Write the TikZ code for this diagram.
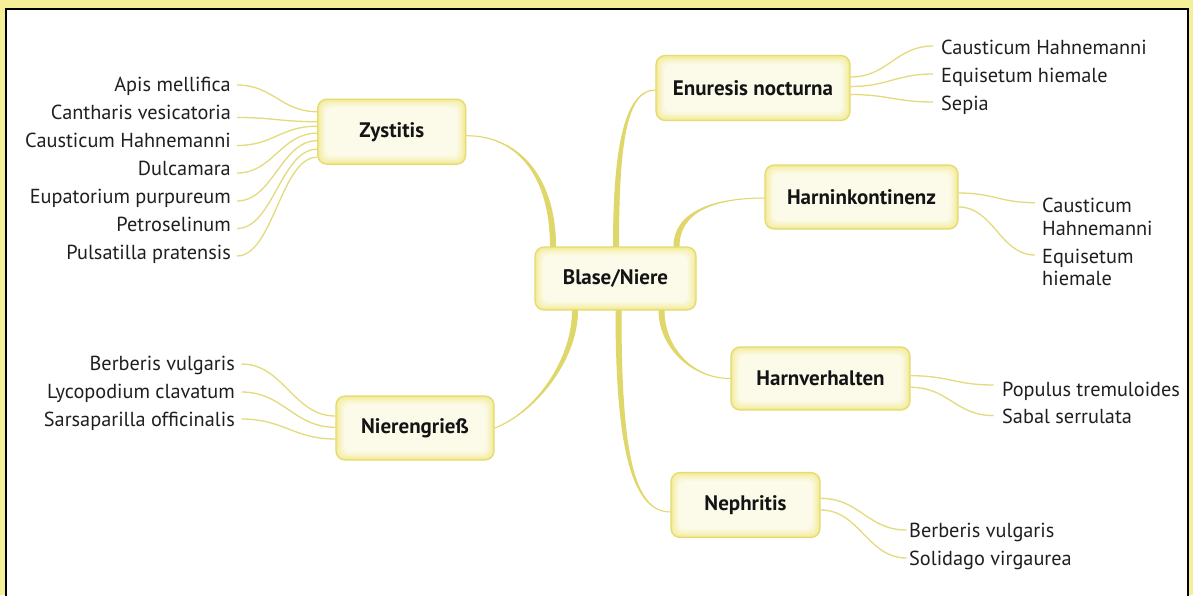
\documentclass[tikz,border=0pt]{standalone}
\usepackage{fontspec}
\setmainfont{PT Sans}
\definecolor{frameyellow}{HTML}{F5EF98}
\definecolor{linecol}{HTML}{E0D76A}
\definecolor{leafline}{HTML}{E3DB7C}
\definecolor{nodeborder}{HTML}{E3DA72}
\definecolor{ga}{HTML}{F3EB98}
\definecolor{gb}{HTML}{F6F0B2}
\definecolor{gc}{HTML}{F8F4C8}
\definecolor{gd}{HTML}{FAF8DA}
\definecolor{ge}{HTML}{FCFBEA}
\pgfdeclarelayer{framelayer}
\pgfdeclarelayer{connlayer}
\pgfsetlayers{framelayer,connlayer,main}
\tikzset{
  topic/.style={draw=nodeborder, line width=1.2pt, fill=ga, rounded corners=9pt, inner sep=0pt,
    font=\fontsize{21}{24}\selectfont\bfseries, text=black!92,
    path picture={
      \foreach \i/\c in {2/gb,4/gc,6/gd,8/ge}{
        \fill[\c, rounded corners=7pt]
          ([shift={(\i,\i)}]path picture bounding box.north west) rectangle
          ([shift={(-\i,-\i)}]path picture bounding box.south east);
      }}},
  leaf/.style={inner sep=0pt, font=\fontsize{20.3}{22.5}\selectfont, text=black!88},
  leafL/.style={leaf, anchor=base east},
  leafR/.style={leaf, anchor=base west, align=left},
  br/.style={fill=linecol, draw=linecol, line width=1pt, line join=round},
  ln/.style={draw=leafline, line width=1.3pt},
}
\begin{document}
\begin{tikzpicture}[x=1pt, y=-1pt]
\useasboundingbox (0,0) rectangle (1193,595);
\begin{pgfonlayer}{framelayer}
  \fill[frameyellow] (0,0) rectangle (1193,595);
  \fill[white] (5.5,8.5) rectangle (1188,600);
  \draw[black, line width=2pt] (5.5,600) |- (1188,8.5) -- (1188,600);
\end{pgfonlayer}

% topic nodes
\node[topic, minimum width=161pt, minimum height=63pt] (cen) at (615.5,278.5) {Blase/Niere};
\node[topic, minimum width=148pt, minimum height=65pt] (zys) at (391.7,131.7) {Zystitis};
\node[topic, minimum width=194pt, minimum height=65pt] (enu) at (753,88) {Enuresis nocturna};
\node[topic, minimum width=193pt, minimum height=64pt] (hki) at (861.5,197) {Harninkontinenz};
\node[topic, minimum width=179pt, minimum height=63pt] (hvh) at (820.5,378.5) {Harnverhalten};
\node[topic, minimum width=158pt, minimum height=64pt] (nie) at (415,428) {Nierengrieß};
\node[topic, minimum width=149pt, minimum height=65pt] (nep) at (745.5,505) {Nephritis};

% leaves left: Zystitis
\node[leafL] (z1) at (231,91) {Apis mellifica};
\node[leafL] (z2) at (231,119) {Cantharis vesicatoria};
\node[leafL] (z3) at (231,147) {Causticum Hahnemanni};
\node[leafL] (z4) at (231,175) {Dulcamara};
\node[leafL] (z5) at (231,203) {Eupatorium purpureum};
\node[leafL] (z6) at (231,231) {Petroselinum};
\node[leafL] (z7) at (231,259) {Pulsatilla pratensis};
% leaves left: Nierengriess
\node[leafL] (n1) at (235,370) {Berberis vulgaris};
\node[leafL] (n2) at (235,398) {Lycopodium clavatum};
\node[leafL] (n3) at (235,426) {Sarsaparilla officinalis};
% leaves right
\node[leafR] (e1) at (941,54) {Causticum Hahnemanni};
\node[leafR] (e2) at (941,82) {Equisetum hiemale};
\node[leafR] (e3) at (941,110) {Sepia};
\node[leafR] (h1) at (1042,235.2) {Causticum\\Hahnemanni};
\node[leafR] (h2) at (1042,285.5) {Equisetum\\hiemale};
\node[leafR] (v1) at (1002,396.5) {Populus tremuloides};
\node[leafR] (v2) at (1002,423.3) {Sabal serrulata};
\node[leafR] (p1) at (909,537) {Berberis vulgaris};
\node[leafR] (p2) at (909,565) {Solidago virgaurea};

\begin{pgfonlayer}{connlayer}
  % main tapered branches
  \path[br] ([shift={(-65,0)}]cen.north) .. controls +(0,-67) and +(54,0) .. ([shift={(0,4)}]zys.east)
     .. controls +(54,0) and +(0,-67) .. ([shift={(-60,0)}]cen.north) -- cycle;
  \path[br] ([shift={(-2,0)}]cen.north) .. controls +(0,-100) and +(-30,0) .. ([shift={(0,2)}]enu.west)
     .. controls +(-30,0) and +(0,-100) .. ([shift={(3,0)}]cen.north) -- cycle;
  \path[br] ([shift={(58.5,0)}]cen.north) .. controls +(0,-35) and +(-50,0) .. ([shift={(0,1)}]hki.west)
     .. controls +(-50,0) and +(0,-35) .. ([shift={(63.5,0)}]cen.north) -- cycle;
  \path[br] ([shift={(43.5,0)}]cen.south) .. controls +(0,35) and +(-40,0) .. (hvh.west)
     .. controls +(-40,0) and +(0,35) .. ([shift={(48.5,0)}]cen.south) -- cycle;
  \path[br] ([shift={(0.5,0)}]cen.south) .. controls +(0,130) and +(-40,0) .. ([shift={(0,7)}]nep.west)
     .. controls +(-40,0) and +(0,130) .. ([shift={(5.5,0)}]cen.south) -- cycle;
  \path[br] ([shift={(-43,0)}]cen.south) .. controls +(0,50) and +(40,-15) .. (nie.east)
     .. controls +(40,-15) and +(0,50) .. ([shift={(-38,0)}]cen.south) -- cycle;

  % leaf connectors: Zystitis
  \draw[ln] ([shift={(6,-6)}]z1.base east) .. controls +(36,0) and +(-36,0) .. ([shift={(0,-20)}]zys.west);
  \draw[ln] ([shift={(6,-1.5)}]z2.base east) .. controls +(36,0) and +(-36,0) .. ([shift={(0,-10)}]zys.west);
  \draw[ln] ([shift={(6,-1.5)}]z3.base east) .. controls +(36,0) and +(-36,0) .. ([shift={(0,-5.5)}]zys.west);
  \draw[ln] ([shift={(6,-2)}]z4.base east) .. controls +(36,0) and +(-36,0) .. ([shift={(0,1.5)}]zys.west);
  \draw[ln] ([shift={(6,-2)}]z5.base east) .. controls +(36,0) and +(-36,0) .. ([shift={(0,9)}]zys.west);
  \draw[ln] ([shift={(6,-2.5)}]z6.base east) .. controls +(36,0) and +(-36,0) .. ([shift={(0,17.5)}]zys.west);
  \draw[ln] ([shift={(6,-3)}]z7.base east) .. controls +(36,0) and +(-36,0) .. ([shift={(0,25.5)}]zys.west);
  % Nierengriess
  \draw[ln] ([shift={(6.5,-6)}]n1.base east) .. controls +(42,0) and +(-42,0) .. ([shift={(0,-12)}]nie.west);
  \draw[ln] ([shift={(6.5,-6)}]n2.base east) .. controls +(42,0) and +(-42,0) .. ([shift={(0,-0.7)}]nie.west);
  \draw[ln] ([shift={(6.5,-7)}]n3.base east) .. controls +(42,0) and +(-42,0) .. ([shift={(0,11)}]nie.west);
  % Enuresis
  \draw[ln] ([shift={(0,-11)}]enu.east) .. controls +(37,0) and +(-37,0) .. ([shift={(-8,-8)}]e1.base west);
  \draw[ln] ([shift={(0,-1.5)}]enu.east) .. controls +(37,0) and +(-37,0) .. ([shift={(-8,-8)}]e2.base west);
  \draw[ln] ([shift={(0,6.5)}]enu.east) .. controls +(37,0) and +(-37,0) .. ([shift={(-8,-8)}]e3.base west);
  % Harninkontinenz
  \draw[ln] ([shift={(0,-4)}]hki.east) .. controls +(35,0) and +(-35,0) .. ([shift={(-7,-32.5)}]h1.base west);
  \draw[ln] ([shift={(0,10)}]hki.east) .. controls +(35,0) and +(-35,0) .. ([shift={(-7,-30.5)}]h2.base west);
  % Harnverhalten
  \draw[ln] ([shift={(0,-2.8)}]hvh.east) .. controls +(38,0) and +(-38,0) .. ([shift={(-8.5,-11.5)}]v1.base west);
  \draw[ln] ([shift={(0,8.8)}]hvh.east) .. controls +(38,0) and +(-38,0) .. ([shift={(-8.5,-7.7)}]v2.base west);
  % Nephritis
  \draw[ln] ([shift={(0,-6.7)}]nep.east) .. controls +(39,0) and +(-39,0) .. ([shift={(-2.5,-7)}]p1.base west);
  \draw[ln] ([shift={(0,5)}]nep.east) .. controls +(39,0) and +(-39,0) .. ([shift={(-2.5,-7)}]p2.base west);
\end{pgfonlayer}
\end{tikzpicture}
\end{document}
